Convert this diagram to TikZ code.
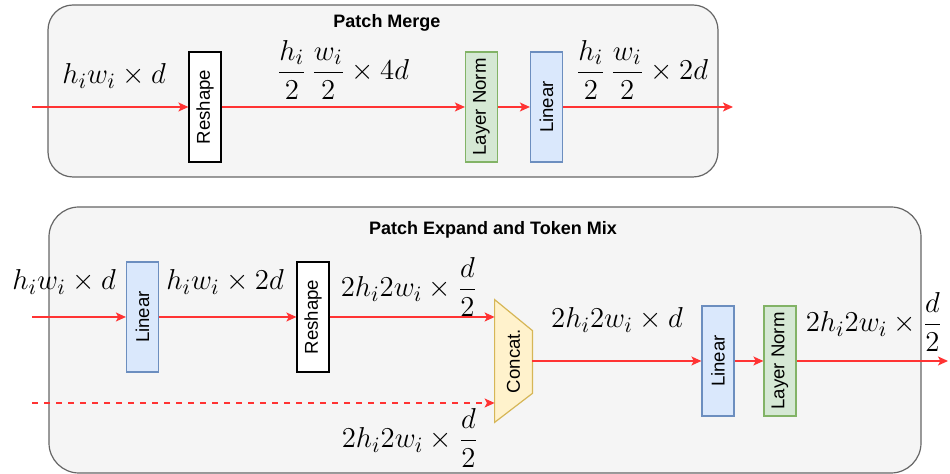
\documentclass[tikz,border=0pt]{standalone}
\usepackage{amsmath}
\usepackage{fontspec}
\setsansfont{Liberation Sans}
\usetikzlibrary{arrows.meta,calc}
\definecolor{contfill}{HTML}{F5F5F5}
\definecolor{contdraw}{HTML}{666666}
\definecolor{linfill}{HTML}{DAE8FC}
\definecolor{lindraw}{HTML}{6C8EBF}
\definecolor{lnfill}{HTML}{D5E8D4}
\definecolor{lndraw}{HTML}{82B366}
\definecolor{catfill}{HTML}{FFF2CC}
\definecolor{catdraw}{HTML}{D6B656}
\definecolor{flow}{HTML}{FF3333}
\begin{document}
\begin{tikzpicture}[x=0.5pt,y=-0.5pt,
  container/.style={draw=contdraw,fill=contfill,line width=0.6pt},
  title/.style={font=\sffamily\bfseries\fontsize{9}{11}\selectfont},
  blockbase/.style={rotate=90,minimum width=55pt,minimum height=16pt,inner sep=0pt,line width=0.6pt,font=\sffamily\fontsize{9.3}{11}\selectfont},
  whitebox/.style={blockbase,draw=black,fill=white},
  linbox/.style={blockbase,draw=lindraw,fill=linfill},
  lnbox/.style={blockbase,draw=lndraw,fill=lnfill},
  lbl/.style={inner sep=0pt,font=\fontsize{15.6}{18}\selectfont},
  flowarrow/.style={draw=flow,line width=0.7pt,-{Stealth[length=5pt,width=4.5pt,inset=1.2pt]}}
]
\useasboundingbox (0,0) rectangle (950,474);
% ---------- Patch Merge ----------
\draw[container,rounded corners=12.5pt] (48,5) rectangle (718,177);
\node[title] (t1) at (387,23) {Patch Merge};
\coordinate (in1) at (32,107);
\node[whitebox] (rs1) at (205,107) {Reshape};
\node[lnbox] (ln1) at (481.5,107) {Layer Norm};
\node[linbox] (li1) at (546.5,107) {Linear};
\coordinate (out1) at (733,107);
\draw[flowarrow] (in1) -- (rs1.north);
\draw[flowarrow] (rs1.south) -- (ln1.north);
\draw[flowarrow] (ln1.south) -- (li1.north);
\draw[flowarrow] (li1.south) -- (out1);
\node[lbl] (a1) at (114,76) {$h_iw_i\times d$};
\node[lbl] (a2) at (343,70) {$\dfrac{h_i}{2}\,\dfrac{w_i}{2}\times 4d$};
\node[lbl] (a3) at (642,70) {$\dfrac{h_i}{2}\,\dfrac{w_i}{2}\times 2d$};
% ---------- Patch Expand and Token Mix ----------
\draw[container,rounded corners=15pt] (49,207) rectangle (921,473);
\node[title] (t2) at (493,230) {Patch Expand and Token Mix};
\coordinate (in2) at (32,317);
\coordinate (in3) at (32,403);
\node[linbox] (li2) at (142.5,317) {Linear};
\node[whitebox] (rs2) at (313,317) {Reshape};
\node[inner sep=0pt,minimum width=18.5pt,minimum height=61pt] (cat) at (513.5,361) {};
\draw[draw=catdraw,fill=catfill,line width=0.6pt]
  (cat.north west) -- ($(cat.north east)+(0,31)$) -- ($(cat.south east)+(0,-29)$) -- (cat.south west) -- cycle;
\node[rotate=90,inner sep=0pt,font=\sffamily\fontsize{9.3}{11}\selectfont] (catlbl) at (cat.center) {Concat.};
\node[linbox] (li3) at (718,361) {Linear};
\node[lnbox] (ln2) at (780,361) {Layer Norm};
\coordinate (out2) at (948,361);
\draw[flowarrow] (in2) -- (li2.north);
\draw[flowarrow] (li2.south) -- (rs2.north);
\draw[flowarrow] (rs2.south) -- (cat.west |- rs2.south);
\draw[flowarrow,dashed] (in3) -- (cat.west |- in3);
\draw[flowarrow] (cat.east) -- (li3.north);
\draw[flowarrow] (li3.south) -- (ln2.north);
\draw[flowarrow] (ln2.south) -- (out2);
\node[lbl] (b1) at (64,282) {$h_iw_i\times d$};
\node[lbl] (b2) at (225,282) {$h_iw_i\times 2d$};
\node[lbl] (b3) at (409,287) {$2h_i2w_i\times\dfrac{d}{2}$};
\node[lbl] (b4) at (617,320) {$2h_i2w_i\times d$};
\node[lbl] (b5) at (874,322) {$2h_i2w_i\times\dfrac{d}{2}$};
\node[lbl] (b6) at (410,438) {$2h_i2w_i\times\dfrac{d}{2}$};
\end{tikzpicture}
\end{document}
